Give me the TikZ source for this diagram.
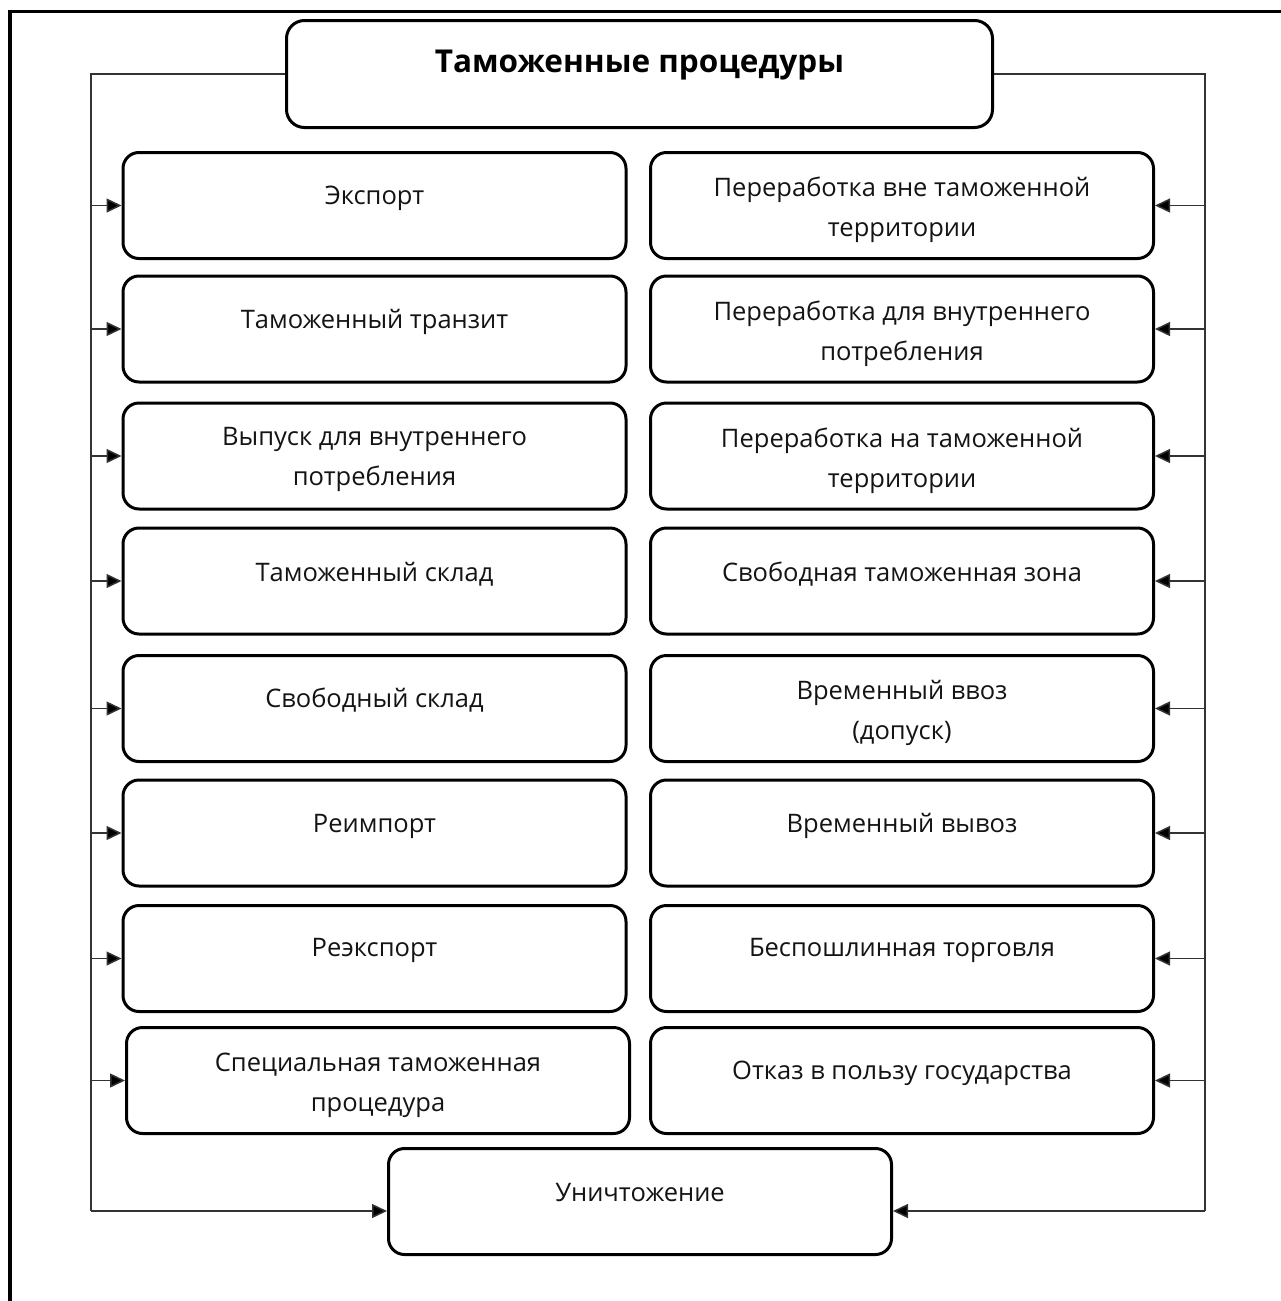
\documentclass[tikz,border=0pt]{standalone}
\usepackage{fontspec}
\setmainfont{Open Sans}
\usetikzlibrary{arrows.meta}
\begin{document}
\begin{tikzpicture}[x=1pt,y=-1pt,
  box/.style={draw=black, line width=3pt, rounded corners=16pt, fill=white, inner sep=0pt},
  cell/.style={box, minimum width=503pt, minimum height=106pt},
  txt/.style={font=\fontsize{25.5}{40}\selectfont, align=center, inner sep=0pt, text=black!92},
  conn/.style={draw=black!80, line width=1.5pt},
  arr/.style={conn, -{Triangle[length=15pt,width=14pt,fill=black]}}]
\useasboundingbox (0,0) rectangle (1280,1301);
\draw[line width=3.5pt] (10,1320) -- (10,11.5) -- (1300,11.5);

% title
\node[box, minimum width=706pt, minimum height=107pt, rounded corners=18pt] (T) at (639.5,74) {};
\node[txt, font=\fontsize{31.5}{36}\selectfont\bfseries, text=black] (tT) at ([yshift=9pt]T.center) {Таможенные процедуры};

% left column
\node[cell] (L1) at (374.5,205.5) {};
\node[cell] (L2) at (374.5,329) {};
\node[cell] (L3) at (374.5,456) {};
\node[cell] (L4) at (374.5,581) {};
\node[cell] (L5) at (374.5,708.5) {};
\node[cell] (L6) at (374.5,833) {};
\node[cell] (L7) at (374.5,958.5) {};
\node[cell] (L8) at (378,1080.5) {};
% right column
\node[cell] (R1) at (902,205.5) {};
\node[cell] (R2) at (902,329) {};
\node[cell] (R3) at (902,456) {};
\node[cell] (R4) at (902,581) {};
\node[cell] (R5) at (902,708.5) {};
\node[cell] (R6) at (902,833) {};
\node[cell] (R7) at (902,958.5) {};
\node[cell] (R8) at (902,1080.5) {};
% bottom
\node[cell] (U) at (640,1201.5) {};

% texts
\node[txt] (tL1) at ([yshift=7pt]L1.center) {Экспорт};
\node[txt] (tL2) at ([yshift=7pt]L2.center) {Таможенный транзит};
\node[txt] (tL3) at ([yshift=-3.5pt]L3.center) {Выпуск для внутреннего\\потребления};
\node[txt] (tL4) at ([yshift=7pt]L4.center) {Таможенный склад};
\node[txt] (tL5) at ([yshift=8pt]L5.center) {Свободный склад};
\node[txt] (tL6) at ([yshift=7pt]L6.center) {Реимпорт};
\node[txt] (tL7) at ([yshift=8.5pt]L7.center) {Реэкспорт};
\node[txt] (tL8) at ([yshift=-5pt]L8.center) {Специальная таможенная\\процедура};
\node[txt] (tR1) at ([yshift=-4pt]R1.center) {Переработка вне таможенной\\территории};
\node[txt] (tR2) at ([yshift=-4.5pt]R2.center) {Переработка для внутреннего\\потребления};
\node[txt] (tR3) at ([yshift=-4.5pt]R3.center) {Переработка на таможенной\\территории};
\node[txt] (tR4) at ([yshift=7pt]R4.center) {Свободная таможенная зона};
\node[txt] (tR5) at ([yshift=-4pt]R5.center) {Временный ввоз\\(допуск)};
\node[txt] (tR6) at ([yshift=7pt]R6.center) {Временный вывоз};
\node[txt] (tR7) at ([yshift=8.5pt]R7.center) {Беспошлинная торговля};
\node[txt] (tR8) at ([yshift=7pt]R8.center) {Отказ в пользу государства};
\node[txt] (tU) at ([yshift=9pt]U.center) {Уничтожение};

% connectors
\coordinate (LB) at (91,1211);
\coordinate (RB) at (1205,1211);
\draw[conn] (T.west) -| (LB);
\draw[conn] (T.east) -| (RB);
\draw[arr] (LB) -- (LB -| U.west);
\draw[arr] (RB) -- (RB -| U.east);
\foreach \i in {1,...,8} {
  \draw[arr] (L\i.west -| LB) -- (L\i.west);
  \draw[arr] (R\i.east -| RB) -- (R\i.east);
}
\end{tikzpicture}
\end{document}
